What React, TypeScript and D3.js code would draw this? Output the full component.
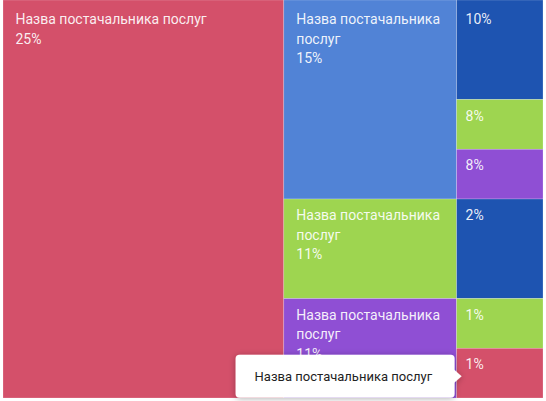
import { useMemo } from 'react';
import * as d3 from 'd3';

const NAME = 'Назва постачальника послуг';
const names = [NAME, NAME, NAME, NAME, NAME, NAME, NAME, NAME, NAME, NAME];
// share labels shown in the tiles
const shares = [25, 15, 11, 11, 10, 8, 8, 2, 1, 1];
// relative tile sizes
const sizes = [52, 16, 8, 8, 4, 2, 2, 4, 2, 2];
const columns = [0, 1, 1, 1, 2, 2, 2, 2, 2, 2];
const colors = [
  '#D4506A',
  '#5183D6',
  '#9ED550',
  '#8F4FD4',
  '#1E54B1',
  '#9ED550',
  '#8F4FD4',
  '#1E54B1',
  '#9ED550',
  '#D4506A',
];
const tooltipIndex = 9;

interface Leaf {
  id: number;
  name: string;
  share: number;
  size: number;
  color: string;
}

interface Node {
  name: string;
  children?: Node[] | Leaf[];
}

const W = 546;
const H = 401;
const margin = { top: 0, right: 3, bottom: 3, left: 3 };
const FONT = 'Roboto, "Noto Sans", sans-serif';

function wrap(text: string, maxW: number, fontSize: number): string[] {
  const words = text.split(' ');
  const charW = fontSize * 0.52;
  const lines: string[] = [];
  let cur = '';
  for (const w of words) {
    const next = cur ? cur + ' ' + w : w;
    if (next.length * charW > maxW && cur) {
      lines.push(cur);
      cur = w;
    } else {
      cur = next;
    }
  }
  if (cur) lines.push(cur);
  return lines;
}

export default function App() {
  const innerW = W - margin.left - margin.right;
  const innerH = H - margin.top - margin.bottom;

  const leaves = useMemo(() => {
    const cols = d3.group(
      names.map((n, i) => ({
        id: i,
        name: n,
        share: shares[i],
        size: sizes[i],
        color: colors[i],
      })),
      (d) => columns[d.id],
    );
    const data: Node = {
      name: 'root',
      children: Array.from(cols, ([k, v]) => ({ name: String(k), children: v })),
    };
    const root = d3
      .hierarchy<any>(data)
      .sum((d) => (d.children ? 0 : d.size));
    d3.treemap<any>().tile(d3.treemapSliceDice).size([innerW, innerH])(root);
    return root.leaves() as d3.HierarchyRectangularNode<Leaf>[];
  }, [innerW, innerH]);

  const tipLeaf = leaves.find((l) => l.data.id === tooltipIndex)!;
  const tipX = tipLeaf.x0 + 5;
  const tipY = (tipLeaf.y0 + tipLeaf.y1) / 2 + 3;
  const boxW = 219;
  const boxH = 43;

  return (
    <>
      <style>{`body{margin:0}`}</style>
      <svg width={W} height={H} style={{ display: 'block', fontFamily: FONT }}>
        <defs>
          <filter id='tipShadow' x='-20%' y='-50%' width='140%' height='200%'>
            <feDropShadow dx={0} dy={1} stdDeviation={3} floodColor='#000' floodOpacity={0.3} />
          </filter>
        </defs>
        <rect width={W} height={H} fill='#fff' />
        <g transform={`translate(${margin.left},${margin.top})`}>
          {leaves.map((l) => {
            const w = l.x1 - l.x0;
            const h = l.y1 - l.y0;
            const showName = w > 120;
            const lines = showName ? wrap(l.data.name, w - 24, 14) : [];
            const pad = showName ? 12.5 : 9;
            const top = l.y0 === 0 ? 24 : 21;
            return (
              <g key={l.data.id} transform={`translate(${l.x0},${l.y0})`}>
                <rect
                  width={w}
                  height={h}
                  fill={l.data.color}
                  stroke='rgba(255,255,255,0.35)'
                  strokeWidth={0.6}
                />
                <text fontSize={14} fill='rgba(255,255,255,0.92)'>
                  {lines.map((t, i) => (
                    <tspan key={i} x={pad} y={top + i * 19.5}>
                      {t}
                    </tspan>
                  ))}
                  <tspan x={pad} y={top + lines.length * 19.5}>
                    {l.data.share}%
                  </tspan>
                </text>
              </g>
            );
          })}

          <g filter='url(#tipShadow)'>
            <rect
              x={tipX - 7 - boxW}
              y={tipY - boxH / 2}
              width={boxW}
              height={boxH}
              rx={4}
              fill='#fff'
            />
            <path
              d={`M${tipX - 8},${tipY - 7} L${tipX},${tipY} L${tipX - 8},${tipY + 7} Z`}
              fill='#fff'
            />
          </g>
          <text
            x={tipX - 7 - boxW + 19}
            y={tipY + 5}
            fontSize={13}
            fill='#222'
          >
            {tipLeaf.data.name}
          </text>
        </g>
      </svg>
    </>
  );
}
